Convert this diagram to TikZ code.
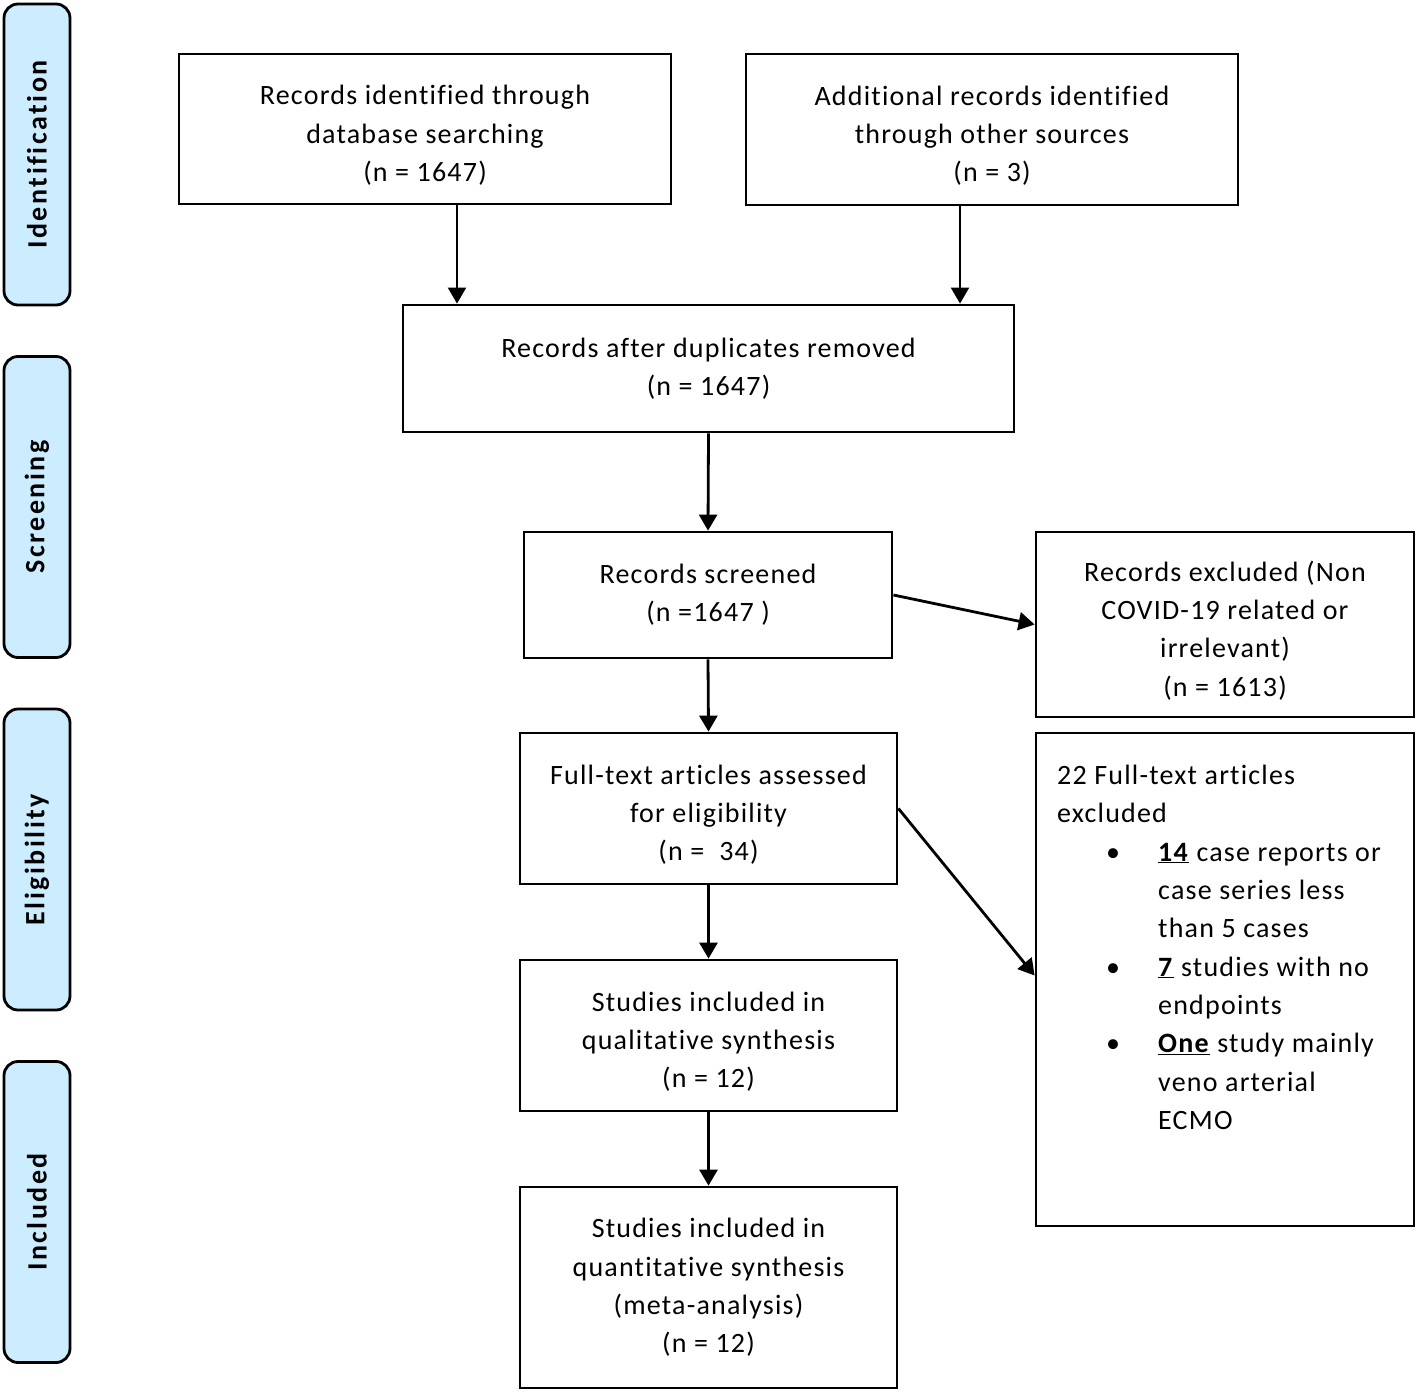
\documentclass[tikz,border=0pt]{standalone}
\usepackage{fontspec}
\setmainfont{Carlito}[Ligatures={NoCommon,NoContextual}]
\newfontfamily\mainfam[LetterSpace=4.3,Ligatures={NoCommon,NoContextual}]{Carlito}
\newfontfamily\sidefam[LetterSpace=9,Ligatures={NoCommon,NoContextual}]{Carlito}
\usetikzlibrary{arrows.meta}
\definecolor{sidefill}{RGB}{204,236,255}
\newcommand{\mainfs}{\mainfam\fontsize{28}{38.3}\selectfont}
\newcommand{\bul}{\makebox[101pt][l]{\hspace{49pt}\textbullet}}
\newcommand{\ind}{\hspace*{101pt}}
\newcommand{\dn}{\rule{0pt}{32pt}}
\begin{document}
\begin{tikzpicture}[x=1pt,y=-1pt,
  box/.style={draw,line width=2.8pt,inner sep=0pt,align=center,font=\mainfs},
  thinbox/.style={box,line width=2.4pt},
  side/.style={draw,line width=2.8pt,fill=sidefill,rounded corners=14pt,rotate=90,
    minimum width=301pt,minimum height=66pt,inner sep=0pt,font=\sidefam\fontsize{28}{32}\selectfont\bfseries},
  arr/.style={line width=2.8pt,-{Triangle[length=16pt,width=18pt]}},
  thinarr/.style={arr,line width=2pt}]
\useasboundingbox (0,0) rectangle (1418,1392);
% side labels
\node[side] (s1) at (37,154.5) {Identification};
\node[side] (s2) at (37,507) {Screening};
\node[side] (s3) at (37,859.5) {Eligibility};
\node[side] (s4) at (37,1212) {Included};
% boxes
\node[thinbox,minimum width=492pt,minimum height=150pt] (A) at (425,129)
  {\dn Records identified through\\database searching\\(n = 1647)};
\node[thinbox,minimum width=492pt,minimum height=151pt] (B) at (992,129.5)
  {\dn Additional records identified\\through other sources\\(n = 3)};
\node[box,minimum width=611pt,minimum height=127pt] (C) at (708.5,368.5)
  {Records after duplicates removed\\(n = 1647)};
\node[box,minimum width=368pt,minimum height=126pt] (D) at (708,595)
  {Records screened\\(n =1647 )};
\node[box,minimum width=378pt,minimum height=185pt] (E) at (1225,624.5)
  {\dn Records excluded (Non\\COVID-19 related or\\irrelevant)\\(n = 1613)};
\node[box,minimum width=377pt,minimum height=151pt] (F) at (708.5,808.5)
  {\dn Full-text articles assessed\\for eligibility\\(n =\ \ 34)};
\node[box,minimum width=378pt,minimum height=493pt] (G) at (1225,979.5) {};
\node[anchor=north west,align=left,inner sep=0pt,font=\mainfs] (Gt) at (1057,765)
  {22 Full-text articles\\excluded\\
   \bul\underline{\textbf{14}} case reports or\\
   \ind case series less\\
   \ind than 5 cases\\
   \bul\underline{\textbf{7}} studies with no\\
   \ind endpoints\\
   \bul\underline{\textbf{One}} study mainly\\
   \ind veno arterial\\
   \ind ECMO};
\node[box,minimum width=377pt,minimum height=151pt] (H) at (708.5,1035.5)
  {\dn Studies included in\\qualitative synthesis\\(n = 12)};
\node[box,minimum width=377pt,minimum height=201pt] (I) at (708.5,1287.5)
  {Studies included in\\quantitative synthesis\\(meta-analysis)\\(n = 12)};
% arrows
\draw[thinarr] ([xshift=32pt]A.south) -- ([xshift=32pt]A.south |- C.north);
\draw[thinarr] ([xshift=-32pt]B.south) -- ([xshift=-32pt]B.south |- C.north);
\draw[arr] (C.south) -- (D.north);
\draw[arr] (D.south) -- (F.north);
\draw[arr] (F.south) -- (H.north);
\draw[arr] (H.south) -- (I.north);
\draw[arr] (D.east) -- (E.west);
\draw[arr] (F.east) -- ([yshift=4pt]G.west);
\end{tikzpicture}
\end{document}
